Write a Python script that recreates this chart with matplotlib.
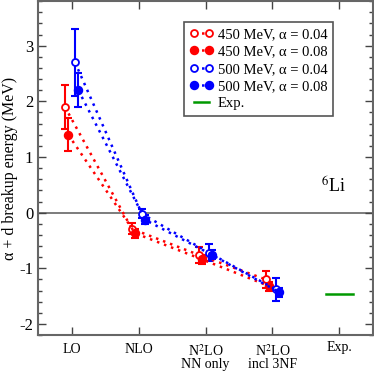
import matplotlib
matplotlib.use("Agg")
import matplotlib.pyplot as plt
from matplotlib.ticker import MultipleLocator
import matplotlib.transforms as mtransforms

plt.rcParams['font.family'] = ['Liberation Serif', 'DejaVu Serif']
plt.rcParams['mathtext.fontset'] = 'stix'

orders = [1, 2, 3, 4]
tick_pos = [1, 2, 3, 4, 5]
tick_labels = ["LO", "NLO", "N$^2$LO\nNN only", "N$^2$LO\nincl 3NF", "Exp."]

labels = ["450 MeV, α = 0.04", "450 MeV, α = 0.08", "500 MeV, α = 0.04", "500 MeV, α = 0.08"]
offsets = [-0.1, -0.05, 0.05, 0.1]
colors = ["#ff0000", "#ff0000", "#0000ff", "#0000ff"]
filled = [False, True, False, True]

e450_a004 = [1.9, -0.29, -0.76, -1.2]
e450_a008 = [1.4, -0.37, -0.84, -1.32]
e500_a004 = [2.7, -0.02, -0.72, -1.38]
e500_a008 = [2.2, -0.13, -0.76, -1.43]
err450_a004 = [0.4, 0.1, 0.15, 0.15]
err450_a008 = [0.3, 0.08, 0.08, 0.08]
err500_a004 = [0.6, 0.08, 0.15, 0.2]
err500_a008 = [0.3, 0.08, 0.08, 0.08]

exp_value = -1.47

series = [e450_a004, e450_a008, e500_a004, e500_a008]
errors = [err450_a004, err450_a008, err500_a004, err500_a008]

fig = plt.figure(figsize=(3.74, 3.74), dpi=100)
ax = fig.add_axes([0.102, 0.104, 0.895, 0.893])

ax.axhline(0, color="#666666", lw=1.2, zorder=1)

for vals, errs, off, c, f, lab in zip(series, errors, offsets, colors, filled, labels):
    xs = [o + off for o in orders]
    ax.errorbar(xs, vals, yerr=errs, fmt='none', ecolor=c, elinewidth=1.5,
                capsize=3, capthick=1.5, zorder=3)
    ax.plot(xs, vals, linestyle=(0, (1, 2)), lw=1.8, color=c, marker='o',
            markersize=5.5 if f else 5, markerfacecolor=c if f else 'white',
            markeredgecolor=c, markeredgewidth=1.3, label=lab, zorder=4)

ax.plot([4.8, 5.2], [exp_value, exp_value], color="#009900", lw=1.8, label="Exp.")

ax.set_xlim(0.5, 5.5)
ax.set_ylim(-2.2, 3.8)
ax.set_xticks(tick_pos)
ax.set_xticklabels([])
trans = mtransforms.blended_transform_factory(ax.transData, ax.transAxes)
for p, t in zip(tick_pos, tick_labels):
    yy = -0.025 if t != "Exp." else -0.018
    ax.text(p, yy, t, transform=trans, ha='center', va='top', fontsize=10,
            linespacing=0.85)
ax.yaxis.set_major_locator(MultipleLocator(1))
ax.yaxis.set_minor_locator(MultipleLocator(0.2))
ax.set_yticks([-2, -1, 0, 1, 2, 3])
ax.set_yticklabels(["-2", "-1", "0", "1", "2", "3"], fontsize=12)
ax.tick_params(which='both', direction='in', top=True, right=True, color='#444444')
ax.tick_params(which='major', length=6, width=1)
ax.tick_params(which='minor', length=3, width=1)
for s in ax.spines.values():
    s.set_color('#666666')
    s.set_linewidth(1.5)

ax.set_ylabel("α + d breakup energy (MeV)", fontsize=11.5, labelpad=1)
ax.text(4.72, 0.35, "$^{6}$Li", fontsize=13)

leg = ax.legend(loc='upper left', bbox_to_anchor=(0.436, 0.937), fontsize=10.5,
                numpoints=2, handlelength=1.6, handletextpad=0.3,
                borderpad=0.4, labelspacing=0.28, fancybox=False,
                framealpha=1, borderaxespad=0)
leg.get_frame().set_edgecolor('#555555')
leg.get_frame().set_linewidth(1.2)

fig.savefig("out.png", dpi=100)
